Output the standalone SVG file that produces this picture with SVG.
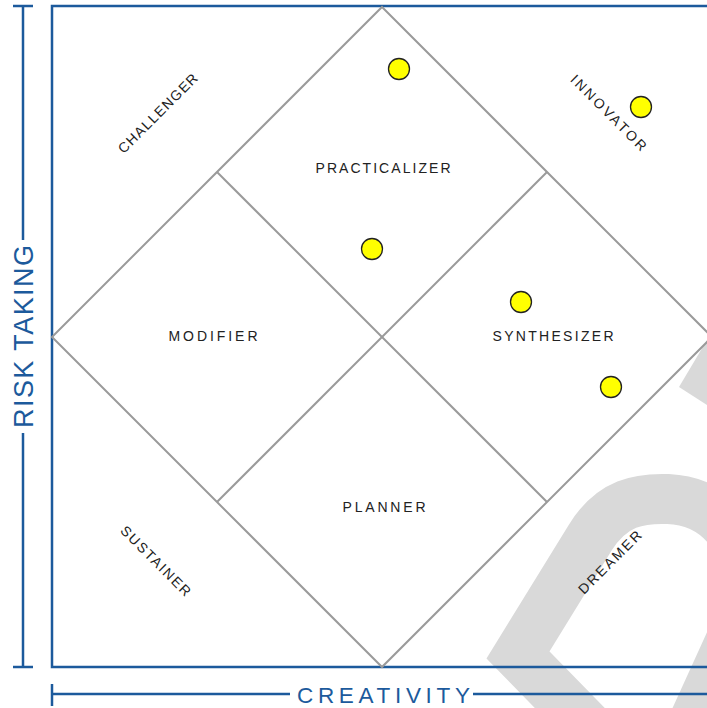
<svg xmlns="http://www.w3.org/2000/svg" width="707" height="708" viewBox="0 0 707 708">
<style>
.axis{stroke:#1c5a9c;stroke-width:2.5;fill:none}
.grid{stroke:#9a9a9a;stroke-width:2;fill:none}
.lbl{font-family:"Liberation Sans",Arial,sans-serif;font-size:14px;fill:#222;text-anchor:middle;letter-spacing:2px}
.ax{font-family:"Liberation Sans",Arial,sans-serif;fill:#1c5a9c;text-anchor:middle}
.dot{fill:#ffff00;stroke:#222;stroke-width:1.3}
.wm{fill:#d9d9d9}
</style>
<rect width="707" height="708" fill="#fff"/>
<g id="watermark">
<path d="M650 790 L518 655 L590 538 C612 502 640 498 668 499 C730 502 760 560 740 620 L690 730" fill="none" stroke="#d9d9d9" stroke-width="50" stroke-linejoin="miter"/>
<polygon class="wm" points="707,340 679,387 707,405"/>
</g>
<g id="frame">
<polyline class="axis" points="707,6 52,6 52,667 707,667"/>
</g>
<g id="axis-risk">
<line class="axis" x1="23" y1="6" x2="23" y2="240"/>
<line class="axis" x1="23" y1="433" x2="23" y2="667"/>
<line class="axis" x1="13" y1="6" x2="33" y2="6"/>
<line class="axis" x1="13" y1="667" x2="33" y2="667"/>
<text class="ax" font-size="27" transform="translate(32.5,336.5) rotate(-90)" textLength="183" lengthAdjust="spacing">RISK TAKING</text>
</g>
<g id="axis-creativity">
<line class="axis" x1="52" y1="694" x2="290" y2="694"/>
<line class="axis" x1="473" y1="694" x2="707" y2="694"/>
<line class="axis" x1="52" y1="684" x2="52" y2="706"/>
<text class="ax" font-size="22.5" x="383.5" y="703" textLength="173" lengthAdjust="spacing">CREATIVITY</text>
</g>
<g id="connectors">
<polygon class="grid" points="382,7 712,337 382,667 52,337"/>
<line class="grid" x1="217" y1="172" x2="547" y2="502"/>
<line class="grid" x1="547" y1="172" x2="217" y2="502"/>
</g>
<g id="practicalizer"><text class="lbl" x="384" y="173" textLength="137" lengthAdjust="spacing">PRACTICALIZER</text></g>
<g id="modifier"><text class="lbl" x="214" y="341" textLength="91" lengthAdjust="spacing">MODIFIER</text></g>
<g id="synthesizer"><text class="lbl" x="554" y="341" textLength="123" lengthAdjust="spacing">SYNTHESIZER</text></g>
<g id="planner"><text class="lbl" x="385" y="512" textLength="85" lengthAdjust="spacing">PLANNER</text></g>
<g id="challenger"><text class="lbl" transform="translate(162,116) rotate(-45)" textLength="108" lengthAdjust="spacing">CHALLENGER</text></g>
<g id="innovator"><text class="lbl" transform="translate(606,117) rotate(45)" textLength="103" lengthAdjust="spacing">INNOVATOR</text></g>
<g id="sustainer"><text class="lbl" transform="translate(153,565) rotate(45)" textLength="95" lengthAdjust="spacing">SUSTAINER</text></g>
<g id="dreamer"><text class="lbl" transform="translate(614,565) rotate(-45)" textLength="85" lengthAdjust="spacing">DREAMER</text></g>
<g id="dots">
<circle class="dot" cx="399" cy="69" r="10.5"/>
<circle class="dot" cx="641" cy="107" r="10.5"/>
<circle class="dot" cx="372" cy="249" r="10.5"/>
<circle class="dot" cx="521" cy="302" r="10.5"/>
<circle class="dot" cx="611" cy="387" r="10.5"/>
</g>
</svg>
